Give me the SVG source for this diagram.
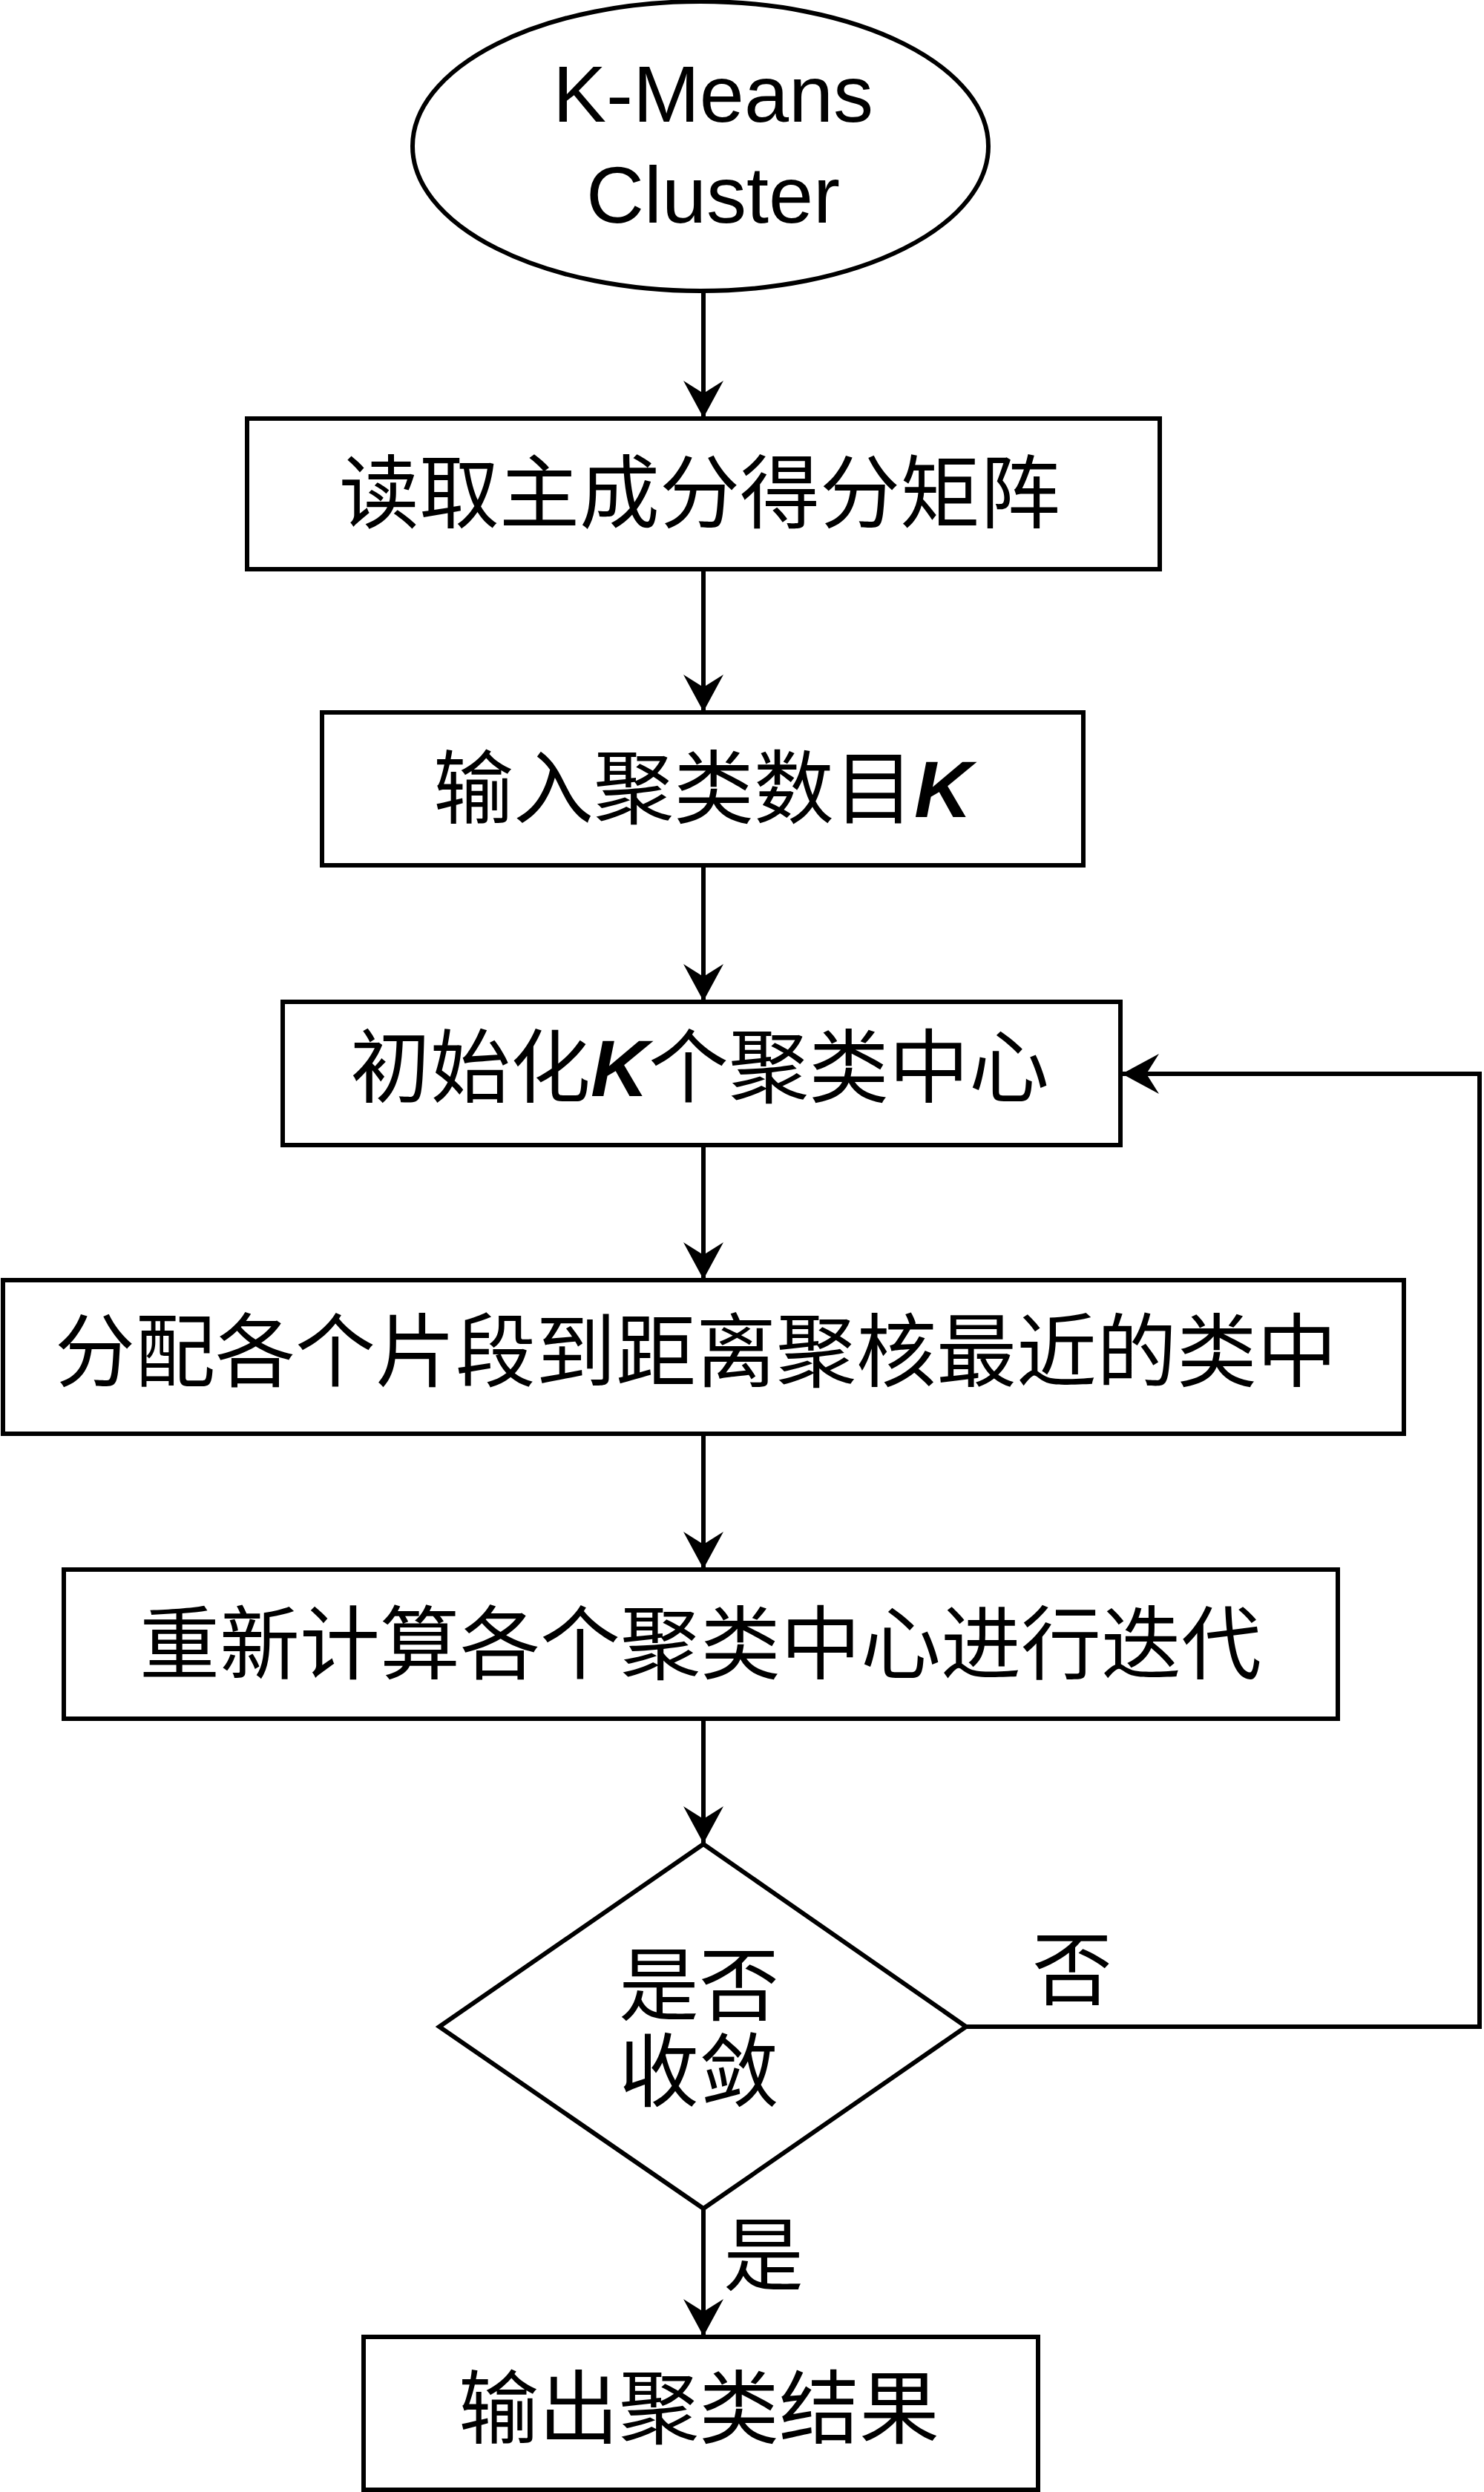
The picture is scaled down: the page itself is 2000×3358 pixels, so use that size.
<svg xmlns="http://www.w3.org/2000/svg" width="2000" height="3358" viewBox="0 0 2000 3358">
  <style>
    .shape { fill: #ffffff; stroke: #000000; stroke-width: 6; }
    .conn { fill: none; stroke: #000000; stroke-width: 6; }
    .zh { font-family: "Noto Sans CJK SC", "Liberation Sans", sans-serif; font-size: 108px; fill: #000000; text-anchor: middle; }
    .en { font-family: "Liberation Sans", Arial, sans-serif; font-size: 108px; fill: #000000; text-anchor: middle; }
    .k { font-family: "Liberation Sans", Arial, sans-serif; font-style: italic; font-weight: bold; }
  </style>
  <defs>
    <marker id="ah" markerUnits="userSpaceOnUse" markerWidth="60" markerHeight="60" viewBox="-54 -30 60 60" refX="0" refY="0" orient="auto" overflow="visible">
      <path d="M0,0 L-50,-27 L-33,0 L-50,27 Z" fill="#000000"/>
    </marker>
  </defs>
  <rect x="0" y="0" width="2000" height="3358" fill="#ffffff"/>

  <g id="connectors">
    <line class="conn" x1="948" y1="392" x2="948" y2="563" marker-end="url(#ah)"/>
    <line class="conn" x1="948" y1="767" x2="948" y2="959" marker-end="url(#ah)"/>
    <line class="conn" x1="948" y1="1166" x2="948" y2="1349" marker-end="url(#ah)"/>
    <line class="conn" x1="948" y1="1543" x2="948" y2="1724" marker-end="url(#ah)"/>
    <line class="conn" x1="948" y1="1932" x2="948" y2="2114" marker-end="url(#ah)"/>
    <line class="conn" x1="948" y1="2316" x2="948" y2="2484" marker-end="url(#ah)"/>
    <line class="conn" x1="948" y1="2976" x2="948" y2="3148" marker-end="url(#ah)"/>
    <polyline class="conn" points="1302,2731 1994,2731 1994,1447 1512,1447" marker-end="url(#ah)"/>
    <text class="zh" x="1445" y="2693">否</text>
    <text class="zh" x="1029" y="3078">是</text>
  </g>

  <g id="start">
    <ellipse class="shape" cx="944" cy="197" rx="388" ry="195"/>
    <text class="en" x="961" y="164">K-Means<tspan x="961" y="300">Cluster</tspan></text>
  </g>

  <g id="read">
    <rect class="shape" x="333" y="564" width="1230" height="203"/>
    <text class="zh" x="943" y="703">读取主成分得分矩阵</text>
  </g>

  <g id="inputK">
    <rect class="shape" x="434" y="960" width="1026" height="206"/>
    <text class="zh" x="947" y="1101">输入聚类数目<tspan class="k">K</tspan></text>
  </g>

  <g id="init">
    <rect class="shape" x="381" y="1350" width="1129" height="193"/>
    <text class="zh" x="943" y="1477">初始化<tspan class="k">K</tspan>个聚类中心</text>
  </g>

  <g id="assign">
    <rect class="shape" x="4" y="1725" width="1888" height="207"/>
    <text class="zh" x="938" y="1860">分配各个片段到距离聚核最近的类中</text>
  </g>

  <g id="recompute">
    <rect class="shape" x="86" y="2115" width="1717" height="201"/>
    <text class="zh" x="944" y="2254">重新计算各个聚类中心进行迭代</text>
  </g>

  <g id="converge">
    <polygon class="shape" points="948,2485 1302,2731 948,2976 592,2731"/>
    <text class="zh" x="942" y="2714">是否<tspan x="942" y="2830">收敛</tspan></text>
  </g>

  <g id="output">
    <rect class="shape" x="490" y="3149" width="909" height="206"/>
    <text class="zh" x="942" y="3284">输出聚类结果</text>
  </g>
</svg>
